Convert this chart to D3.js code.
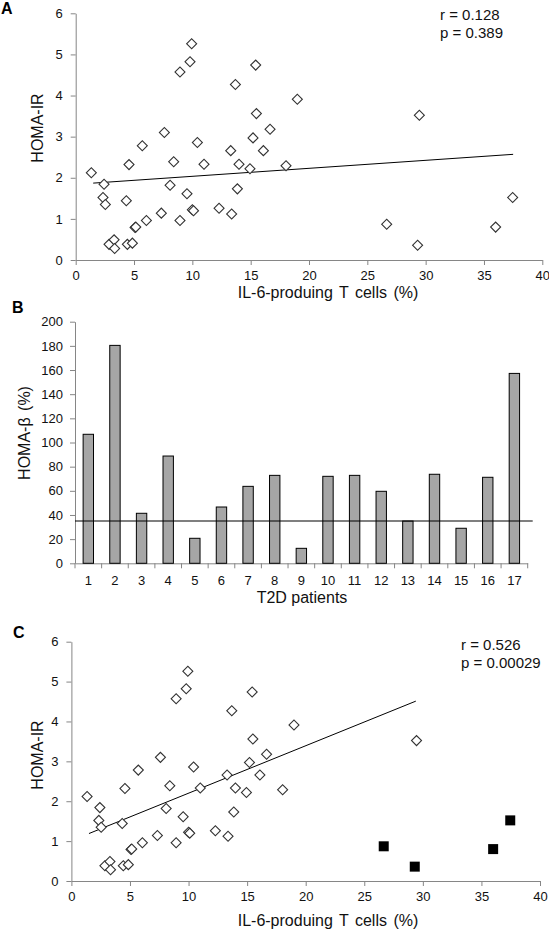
<!DOCTYPE html>
<html>
<head>
<meta charset="utf-8">
<script src="https://cdn.jsdelivr.net/npm/d3@7"></script>
<style>
  html, body { margin: 0; padding: 0; background: #fff; }
  svg { display: block; font-family: "Liberation Sans", Arial, sans-serif; }
</style>
</head>
<body>
<svg id="chart" width="549" height="930"></svg>
<script>
// ---------- DATA ----------
const il6Cells = [1.34, 2.43, 2.34, 2.54, 2.86, 3.29, 3.34, 4.34, 4.57, 4.43, 4.86, 5.09, 5.15, 6.06, 5.71, 7.34, 7.6, 8.09, 8.4, 8.94, 8.94, 9.54, 9.8, 9.94, 10.0, 10.1, 10.43, 11.0, 12.29, 13.29, 13.37, 13.69, 14.0, 13.86, 14.94, 15.2, 15.43, 15.49, 16.09, 16.66, 18.03, 19.0, 29.46, 26.66, 29.31, 36.0, 37.46];
const homaIR = [2.12, 1.84, 1.52, 1.35, 0.38, 0.49, 0.28, 1.44, 2.32, 0.38, 0.41, 0.79, 0.80, 0.96, 2.78, 1.14, 3.10, 1.82, 2.39, 4.57, 0.96, 1.61, 4.82, 5.26, 1.22, 1.20, 2.86, 2.33, 1.26, 2.66, 1.12, 4.27, 2.33, 1.73, 2.22, 2.97, 4.74, 3.56, 2.66, 3.18, 2.29, 3.91, 3.52, 0.87, 0.36, 0.80, 1.52];
// indices of points shown as filled squares (excluded) in panel C
const excludedC = [43, 44, 45, 46];

const trendA_x = [1.5, 37.5];
const trendA_y = [1.87, 2.57];
const trendC_x = [1.5, 29.4];
const trendC_y = [1.19, 4.51];

const statsA = ["r = 0.128", "p = 0.389"];
const statsC = ["r = 0.526", "p = 0.00029"];

const patients = ["1","2","3","4","5","6","7","8","9","10","11","12","13","14","15","16","17"];
const homaBeta = [106.8, 180.4, 41.4, 88.8, 20.7, 46.6, 63.7, 72.8, 12.4, 72.0, 72.8, 59.6, 35.0, 73.7, 29.0, 71.2, 157.2];
const betaCutoff = 35;

const xTicksScatter = [0, 5, 10, 15, 20, 25, 30, 35, 40];
const yTicksScatter = [0, 1, 2, 3, 4, 5, 6];
const yTicksBeta = [0, 20, 40, 60, 80, 100, 120, 140, 160, 180, 200];

// ---------- STYLE ----------
const axisColor = "#868686";
const textColor = "#111";
const tickFont = 13;
const titleFont = 16;
const fmt = d3.format("d");

const svg = d3.select("#chart");

function styleAxis(g) {
  g.select(".domain").attr("stroke", axisColor);
  g.selectAll(".tick line").attr("stroke", axisColor);
  g.selectAll(".tick text").attr("fill", textColor).attr("font-size", tickFont)
    .attr("font-family", "'Liberation Sans', Arial, sans-serif");
}

function scatterPanel(cfg) {
  const x = d3.scaleLinear().domain([0, 40]).range([cfg.x0, cfg.x1]);
  const y = d3.scaleLinear().domain([0, 6]).range([cfg.y0, cfg.y1]);
  const g = svg.append("g");

  g.append("g").attr("transform", `translate(0,${cfg.y0})`)
    .call(d3.axisBottom(x).tickValues(xTicksScatter).tickFormat(fmt).tickSize(5).tickPadding(6).tickSizeOuter(0))
    .call(styleAxis);
  g.append("g").attr("transform", `translate(${cfg.x0},0)`)
    .call(d3.axisLeft(y).tickValues(yTicksScatter).tickFormat(fmt).tickSize(5).tickPadding(8).tickSizeOuter(0))
    .call(styleAxis);

  const pts = il6Cells.map((v, i) => ({x: v, y: homaIR[i], ex: cfg.useExcluded && excludedC.includes(i)}));

  // trend line
  g.append("line")
    .attr("x1", x(cfg.tx[0])).attr("y1", y(cfg.ty[0]))
    .attr("x2", x(cfg.tx[1])).attr("y2", y(cfg.ty[1]))
    .attr("stroke", "#000").attr("stroke-width", 1);

  const diamond = d3.symbol().type(d3.symbolSquare).size(50);
  const square = d3.symbol().type(d3.symbolSquare).size(100);

  g.selectAll("path.pt").data(pts).join("path")
    .attr("class", "pt")
    .attr("d", d => d.ex ? square() : diamond())
    .attr("transform", d => d.ex
      ? `translate(${x(d.x)},${y(d.y)})`
      : `translate(${x(d.x)},${y(d.y)}) rotate(45)`)
    .attr("fill", d => d.ex ? "#000" : "#fff")
    .attr("stroke", d => d.ex ? "none" : "#333")
    .attr("stroke-width", 1.1);

  // axis titles
  g.append("text").attr("x", cfg.xTitleX).attr("y", cfg.xTitleY)
    .attr("text-anchor", "middle").attr("font-size", titleFont).attr("fill", textColor)
    .attr("word-spacing", 2)
    .text("IL-6-produing T cells (%)");
  g.append("text")
    .attr("transform", `translate(${cfg.yTitleX},${cfg.yTitleY}) rotate(-90)`)
    .attr("text-anchor", "middle").attr("font-size", titleFont).attr("fill", textColor)
    .text("HOMA-IR");

  // stats
  cfg.stats.forEach((s, i) => {
    g.append("text").attr("x", cfg.statX).attr("y", cfg.statY + i * 18)
      .attr("font-size", 15).attr("fill", textColor).text(s);
  });

  // panel label
  g.append("text").attr("x", cfg.labX).attr("y", cfg.labY)
    .attr("font-size", 16).attr("font-weight", "bold").attr("fill", "#000").text(cfg.label);
}

scatterPanel({
  x0: 75.7, x1: 542.3, y0: 260, y1: 13.3,
  tx: trendA_x, ty: trendA_y, useExcluded: false,
  xTitleX: 328, xTitleY: 298, yTitleX: 43, yTitleY: 128,
  stats: statsA, statX: 440, statY: 20,
  label: "A", labX: 1, labY: 14
});

scatterPanel({
  x0: 71.4, x1: 540, y0: 881, y1: 641.7,
  tx: trendC_x, ty: trendC_y, useExcluded: true,
  xTitleX: 328, xTitleY: 926, yTitleX: 43, yTitleY: 755,
  stats: statsC, statX: 461, statY: 650,
  label: "C", labX: 13, labY: 638
});

// ---------- PANEL B ----------
(function () {
  const x0 = 75, x1 = 527.7, y0 = 563.3, y1 = 321.7;
  const x = d3.scaleBand().domain(patients).range([x0, x1]).paddingInner(0.61).paddingOuter(0.305);
  const y = d3.scaleLinear().domain([0, 200]).range([y0, y1]);
  const g = svg.append("g");

  g.append("g").attr("transform", `translate(${x0},0)`)
    .call(d3.axisLeft(y).tickValues(yTicksBeta).tickFormat(fmt).tickSize(5).tickPadding(7).tickSizeOuter(0))
    .call(styleAxis);

  g.append("g").attr("transform", `translate(0,${y0})`)
    .call(d3.axisBottom(x).tickSize(0).tickPadding(12))
    .call(styleAxis);
  // boundary ticks between categories
  const step = x.step();
  const bounds = d3.range(patients.length + 1).map(i => x0 + i * step);
  g.selectAll("line.bt").data(bounds).join("line").attr("class", "bt")
    .attr("x1", d => d).attr("x2", d => d)
    .attr("y1", y0).attr("y2", y0 + 5)
    .attr("stroke", axisColor);

  g.selectAll("rect.bar").data(homaBeta).join("rect").attr("class", "bar")
    .attr("x", (d, i) => x(patients[i]))
    .attr("y", d => y(d))
    .attr("width", x.bandwidth())
    .attr("height", d => y0 - y(d))
    .attr("fill", "#a6a6a6").attr("stroke", "#000").attr("stroke-width", 1);

  g.append("line")
    .attr("x1", x0).attr("x2", x1 + 5)
    .attr("y1", y(betaCutoff)).attr("y2", y(betaCutoff))
    .attr("stroke", "#000").attr("stroke-width", 1.2);

  g.append("text").attr("x", 302).attr("y", 603)
    .attr("text-anchor", "middle").attr("font-size", titleFont).attr("fill", textColor)
    .text("T2D patients");
  g.append("text")
    .attr("transform", `translate(30,433) rotate(-90)`)
    .attr("text-anchor", "middle").attr("font-size", titleFont).attr("fill", textColor)
    .attr("word-spacing", 2)
    .text("HOMA-β (%)");
  g.append("text").attr("x", 12).attr("y", 313)
    .attr("font-size", 16).attr("font-weight", "bold").attr("fill", "#000").text("B");
})();
</script>
</body>
</html>
